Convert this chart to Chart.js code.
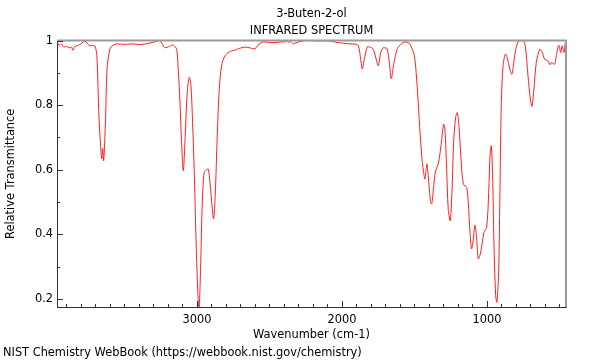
<!DOCTYPE html>
<html>
<head>
<meta charset="utf-8">
<script src="https://cdn.jsdelivr.net/npm/chart.js@4"></script>
<style>
  html, body { margin: 0; padding: 0; background: #fff; }
  #wrap { width: 600px; height: 360px; }
</style>
</head>
<body>
<div id="wrap"><canvas id="irChart" width="600" height="360"></canvas></div>
<script>
// --- DATA ---
const wavenumbers = [
  3965, 3950, 3935, 3920, 3900, 3880, 3865, 3855, 3840, 3820, 3800, 3772, 3755, 3738, 3720, 3703,
  3690, 3675, 3657, 3650, 3643, 3630, 3620, 3600, 3580, 3550, 3500, 3450, 3400, 3350, 3300, 3255,
  3240, 3221, 3190, 3163, 3140, 3129, 3117, 3106, 3094, 3081, 3067, 3053, 3041, 3030, 3019, 3007,
  2995, 2986, 2975, 2963, 2950, 2935, 2922, 2910, 2894, 2885, 2874, 2860, 2846, 2830, 2807, 2777,
  2761, 2740, 2715, 2690, 2669, 2630, 2600, 2570, 2543, 2500, 2462, 2420, 2393, 2379, 2370, 2355,
  2340, 2324, 2290, 2255, 2221, 2150, 2083, 2040, 1991, 1950, 1910, 1887, 1871, 1860, 1846, 1825,
  1810, 1795, 1779, 1761, 1749, 1733, 1715, 1700, 1688, 1673, 1660, 1641, 1618, 1590, 1566, 1550,
  1531, 1501, 1485, 1474, 1460, 1446, 1437, 1428, 1420, 1414, 1405, 1391, 1381, 1367, 1354, 1336,
  1317, 1299, 1290, 1278, 1267, 1253, 1239, 1230, 1216, 1205, 1193, 1179, 1163, 1140, 1129, 1117,
  1106, 1094, 1083, 1071, 1060, 1046, 1032, 1021, 1002, 988, 979, 970, 961, 952, 940, 931,
  919, 910, 901, 889, 873, 860, 843, 828, 809, 786, 752, 736, 717, 701, 690, 676,
  660, 636, 620, 602, 579, 565, 556, 533, 522, 505, 491, 482, 469, 460
];
const transmittance = [
  0.996, 0.985, 0.99, 0.98, 0.982, 0.978, 0.98, 0.97, 0.982, 0.985, 0.99, 0.999, 0.99, 0.984, 0.985, 0.983,
  0.953, 0.757, 0.634, 0.666, 0.628, 0.758, 0.912, 0.974, 0.985, 0.99, 0.988, 0.99, 0.988, 0.99, 0.995, 1.0,
  0.99, 0.978, 0.982, 0.986, 0.973, 0.912, 0.808, 0.685, 0.597, 0.705, 0.839, 0.886, 0.86, 0.746, 0.602, 0.396,
  0.231, 0.165, 0.293, 0.499, 0.592, 0.6, 0.602, 0.561, 0.478, 0.448, 0.52, 0.705, 0.85, 0.922, 0.953, 0.965,
  0.968, 0.97, 0.975, 0.978, 0.98, 0.977, 0.975, 0.99, 0.996, 0.994, 0.994, 0.996, 0.996, 1.0, 0.994, 0.998,
  0.99, 0.992, 0.997, 1.0, 1.0, 0.999, 0.999, 0.995, 0.992, 0.99, 0.989, 0.984, 0.942, 0.912, 0.942, 0.981,
  0.98, 0.978, 0.968, 0.937, 0.922, 0.963, 0.978, 0.977, 0.975, 0.932, 0.882, 0.932, 0.975, 0.99, 0.996, 0.995,
  0.989, 0.953, 0.881, 0.808, 0.705, 0.623, 0.592, 0.571, 0.6, 0.618, 0.582, 0.509, 0.494, 0.551, 0.597, 0.618,
  0.674, 0.741, 0.726, 0.602, 0.478, 0.442, 0.561, 0.685, 0.762, 0.777, 0.736, 0.633, 0.556, 0.545, 0.499, 0.406,
  0.355, 0.386, 0.429, 0.386, 0.324, 0.339, 0.375, 0.406, 0.422, 0.53, 0.643, 0.674, 0.582, 0.375, 0.21, 0.19,
  0.293, 0.551, 0.808, 0.922, 0.958, 0.947, 0.912, 0.896, 0.953, 0.996, 1.0, 0.984, 0.891, 0.819, 0.796, 0.85,
  0.932, 0.973, 0.965, 0.942, 0.937, 0.925, 0.932, 0.927, 0.953, 0.986, 0.963, 0.984, 0.963, 0.994
];

// tick positions
const xMajorTicks = [1000, 2000, 3000];
const xMinorTicks = [500, 600, 700, 800, 900, 1100, 1200, 1300, 1400, 1500, 1600, 1700, 1800, 1900,
  2100, 2200, 2300, 2400, 2500, 2600, 2700, 2800, 2900, 3100, 3200, 3300, 3400, 3500, 3600, 3700, 3800, 3900];
const yMajorTicks = [0.2, 0.4, 0.6, 0.8, 1];
const yMinorTicks = [0.3, 0.5, 0.7, 0.9];

const titleLines = ['3-Buten-2-ol', 'INFRARED SPECTRUM'];
const footerText = 'NIST Chemistry WebBook (https://webbook.nist.gov/chemistry)';

// --- CHART ---

const FONT = 'DejaVu Sans';
const FONT_SIZE = 11.4;
Chart.defaults.font.family = FONT;
Chart.defaults.font.size = FONT_SIZE;
Chart.defaults.color = '#000';

// frame on top/right plus inward tick marks, and the footer line
const framePlugin = {
  id: 'frame',
  afterDraw(chart) {
    const { ctx, chartArea: a, scales: { x, y } } = chart;
    ctx.save();

    ctx.strokeStyle = '#9a9a9a';
    ctx.lineWidth = 2;
    ctx.beginPath();
    ctx.moveTo(a.left, a.top);
    ctx.lineTo(a.right, a.top);
    ctx.lineTo(a.right, a.bottom);
    ctx.stroke();

    ctx.strokeStyle = '#333';
    ctx.lineWidth = 1;
    ctx.beginPath();
    yMajorTicks.forEach(v => {
      const py = Math.round(y.getPixelForValue(v)) + 0.5;
      ctx.moveTo(a.left, py); ctx.lineTo(a.left + 6, py);
    });
    yMinorTicks.forEach(v => {
      const py = Math.round(y.getPixelForValue(v)) + 0.5;
      ctx.moveTo(a.left, py); ctx.lineTo(a.left + 3, py);
    });
    xMajorTicks.forEach(v => {
      const px = Math.round(x.getPixelForValue(v)) + 0.5;
      ctx.moveTo(px, a.bottom); ctx.lineTo(px, a.bottom - 6);
    });
    xMinorTicks.forEach(v => {
      const px = Math.round(x.getPixelForValue(v)) + 0.5;
      ctx.moveTo(px, a.bottom); ctx.lineTo(px, a.bottom - 3);
    });
    ctx.stroke();

    ctx.fillStyle = '#000';
    ctx.font = FONT_SIZE + 'px "' + FONT + '"';
    ctx.textBaseline = 'middle';
    ctx.textAlign = 'left';
    ctx.fillText(footerText, 3, 353.5);
    ctx.restore();
  }
};

new Chart(document.getElementById('irChart'), {
  type: 'line',
  data: {
    datasets: [{
      data: wavenumbers.map((w, i) => ({ x: w, y: transmittance[i] })),
      borderColor: '#ff2020',
      borderWidth: 1,
      pointRadius: 0,
      tension: 0.3,
      fill: false
    }]
  },
  options: {
    responsive: false,
    animation: false,
    layout: { padding: { left: 0, right: 34, top: 0, bottom: 18 } },
    plugins: {
      legend: { display: false },
      tooltip: { enabled: false },
      title: {
        display: true,
        text: titleLines,
        fullSize: false,
        font: { size: FONT_SIZE, weight: 'normal', lineHeight: 1.5 },
        padding: { top: 5, bottom: 1.4 }
      }
    },
    scales: {
      x: {
        type: 'linear',
        reverse: true,
        min: 455,
        max: 3965,
        afterBuildTicks: s => { s.ticks = xMajorTicks.map(v => ({ value: v })); },
        afterFit: s => { s.height = 35; },
        grid: { display: false, drawTicks: false },
        border: { display: true, color: '#333', width: 1 },
        ticks: { padding: 6, maxRotation: 0, autoSkip: false, callback: v => String(v) },
        title: { display: true, text: 'Wavenumber (cm-1)', padding: { top: 0, bottom: 0 } }
      },
      y: {
        min: 0.175,
        max: 1.0,
        afterBuildTicks: s => { s.ticks = yMajorTicks.map(v => ({ value: v })); },
        afterFit: s => { s.width = 57; },
        grid: { display: false, drawTicks: false },
        border: { display: true, color: '#333', width: 1 },
        ticks: { padding: 4, autoSkip: false, callback: v => String(v) },
        title: { display: true, text: 'Relative Transmittance', padding: { top: 4, bottom: 4 } }
      }
    }
  },
  plugins: [framePlugin]
});
</script>
</body>
</html>
